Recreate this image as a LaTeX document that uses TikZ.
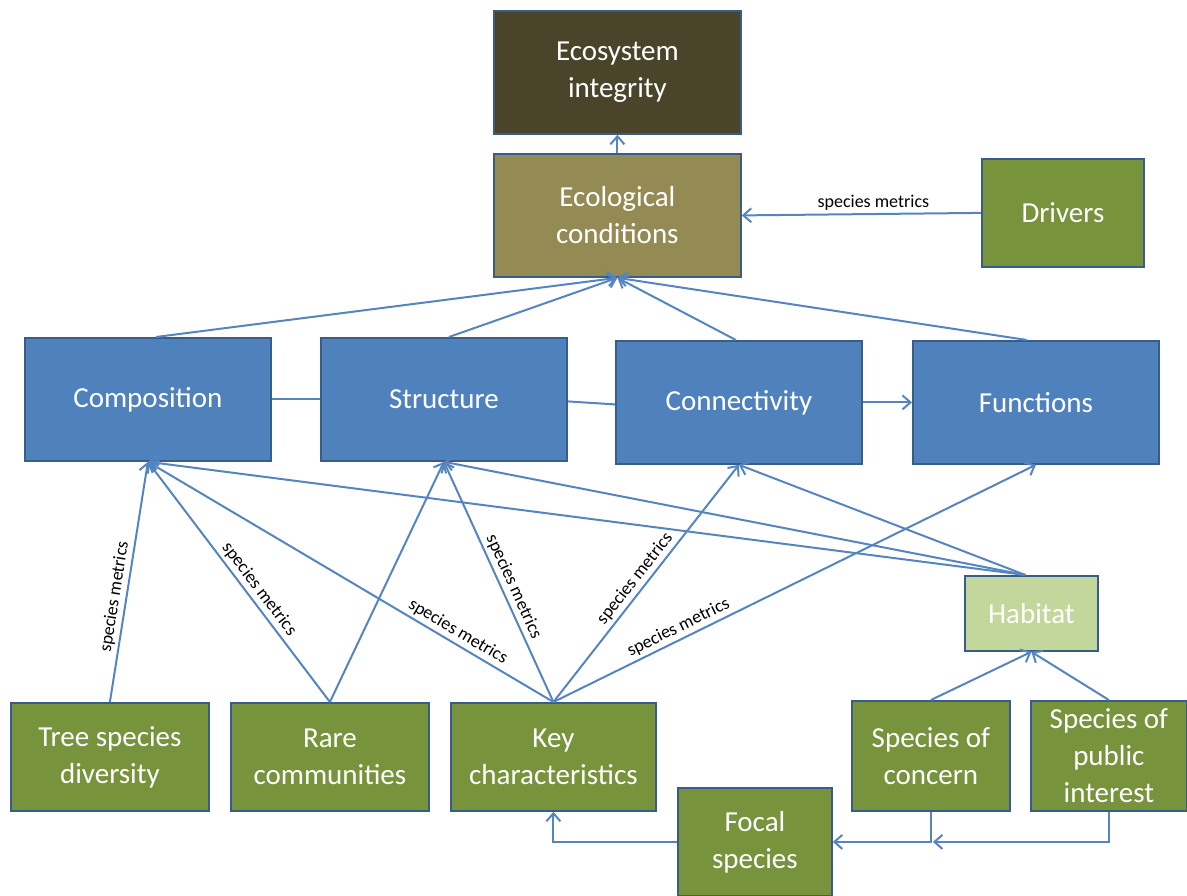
\documentclass[tikz,border=0pt]{standalone}
\usepackage{fontspec}
\setmainfont{Carlito}
\usetikzlibrary{arrows.meta,calc}
\definecolor{bluefill}{HTML}{4F81BD}
\definecolor{border}{HTML}{385D8A}
\definecolor{greenfill}{HTML}{77933C}
\definecolor{intfill}{HTML}{4A442A}
\definecolor{condfill}{HTML}{948A54}
\definecolor{habfill}{HTML}{C3D69B}
\definecolor{linecol}{HTML}{5585C0}
\begin{document}
\begin{tikzpicture}[x=1pt,y=-1pt,
  box/.style={draw=border, line width=1.8pt, text=white, font=\fontsize{29}{37}\selectfont, align=center, anchor=north west, inner sep=0pt},
  bbox/.style={box, fill=bluefill, minimum width=246pt, minimum height=123pt},
  gbox/.style={box, fill=greenfill},
  conn/.style={draw=linecol, line width=2pt},
  arr/.style={conn, -{Straight Barb[length=8pt,width=14pt]}},
  lbl/.style={font=\fontsize{18}{20}\selectfont, text=black, inner sep=3pt}]
\useasboundingbox (0,0) rectangle (1187,895);
% top
\node[box, fill=intfill, minimum width=247pt, minimum height=123pt] (int) at (493,10) {Ecosystem\\integrity};
\node[box, fill=condfill, minimum width=247pt, minimum height=123pt] (cond) at (493,153) {Ecological\\conditions};
\node[gbox, minimum width=162pt, minimum height=108pt] (drv) at (981,158) {Drivers};
% middle row
\node[bbox] (comp) at (24,337) {Composition};
\node[bbox] (struct) at (320,337) {Structure};
\node[bbox] (conn) at (615,340) {Connectivity};
\node[bbox] (func) at (912,340) {Functions};
% habitat
\node[box, fill=habfill, minimum width=133pt, minimum height=75pt] (hab) at (964,575) {Habitat};
% bottom row
\node[gbox, minimum width=198pt, minimum height=108pt] (tree) at (10,702) {Tree species\\diversity};
\node[gbox, minimum width=198pt, minimum height=108pt] (rare) at (230,702) {Rare\\communities};
\node[gbox, minimum width=205pt, minimum height=108pt] (key) at (450,702) {Key\\characteristics};
\node[gbox, minimum width=158pt, minimum height=110pt] (soc) at (851,700) {Species of\\concern};
\node[gbox, minimum width=156pt, minimum height=110pt] (spi) at (1030,700) {Species of\\public\\interest};
\node[gbox, minimum width=154pt, minimum height=108pt] (foc) at (677,787) {Focal\\species};
% top connectors
\draw[arr] (cond.north) -- (int.south);
\draw[arr] (drv.west) -- node[lbl, above, pos=0.45] {species metrics} (cond.east);
\draw[arr] ($(comp.north)+(8,0)$) -- (cond.south);
\draw[arr] ($(struct.north)+(5,0)$) -- (cond.south);
\draw[arr] ($(conn.north)+(-3,0)$) -- (cond.south);
\draw[arr] ($(func.north)+(-9,0)$) -- (cond.south);
% row links
\draw[conn] (comp.east) -- (struct.west);
\draw[conn] ($(struct.east)+(0,2)$) -- ($(conn.west)+(0,2)$);
\draw[arr] (conn.east) -- (func.west);
% lower connectors
\draw[arr] (tree.north) -- node[lbl, sloped, above, pos=0.43] {species metrics} (comp.south);
\draw[arr] (rare.north) -- node[lbl, sloped, above, pos=0.44] {species metrics} (comp.south);
\draw[arr] (rare.north) -- (struct.south);
\draw[arr] (key.north) -- node[lbl, sloped, above, pos=0.25] {species metrics} (comp.south);
\draw[arr] (key.north) -- node[lbl, sloped, above, pos=0.46] {species metrics} (struct.south);
\draw[arr] (key.north) -- node[lbl, sloped, above, pos=0.49] {species metrics} (conn.south);
\draw[arr] (key.north) -- node[lbl, sloped, above, pos=0.27] {species metrics} (func.south);
\draw[arr] ($(hab.north)+(-6,0)$) -- (comp.south);
\draw[arr] ($(hab.north)+(-6,0)$) -- (struct.south);
\draw[arr] ($(hab.north)+(-6,0)$) -- (conn.south);
\draw[arr] (soc.north) -- (hab.south);
\draw[arr] (spi.north) -- (hab.south);
% focal connectors
\coordinate (j) at (soc.south |- foc.east);
\draw[arr] (soc.south) |- (foc.east);
\draw[arr] (spi.south) |- ($(j)+(2,0)$);
\draw[arr] (foc.west) -| (key.south);
\end{tikzpicture}
\end{document}
